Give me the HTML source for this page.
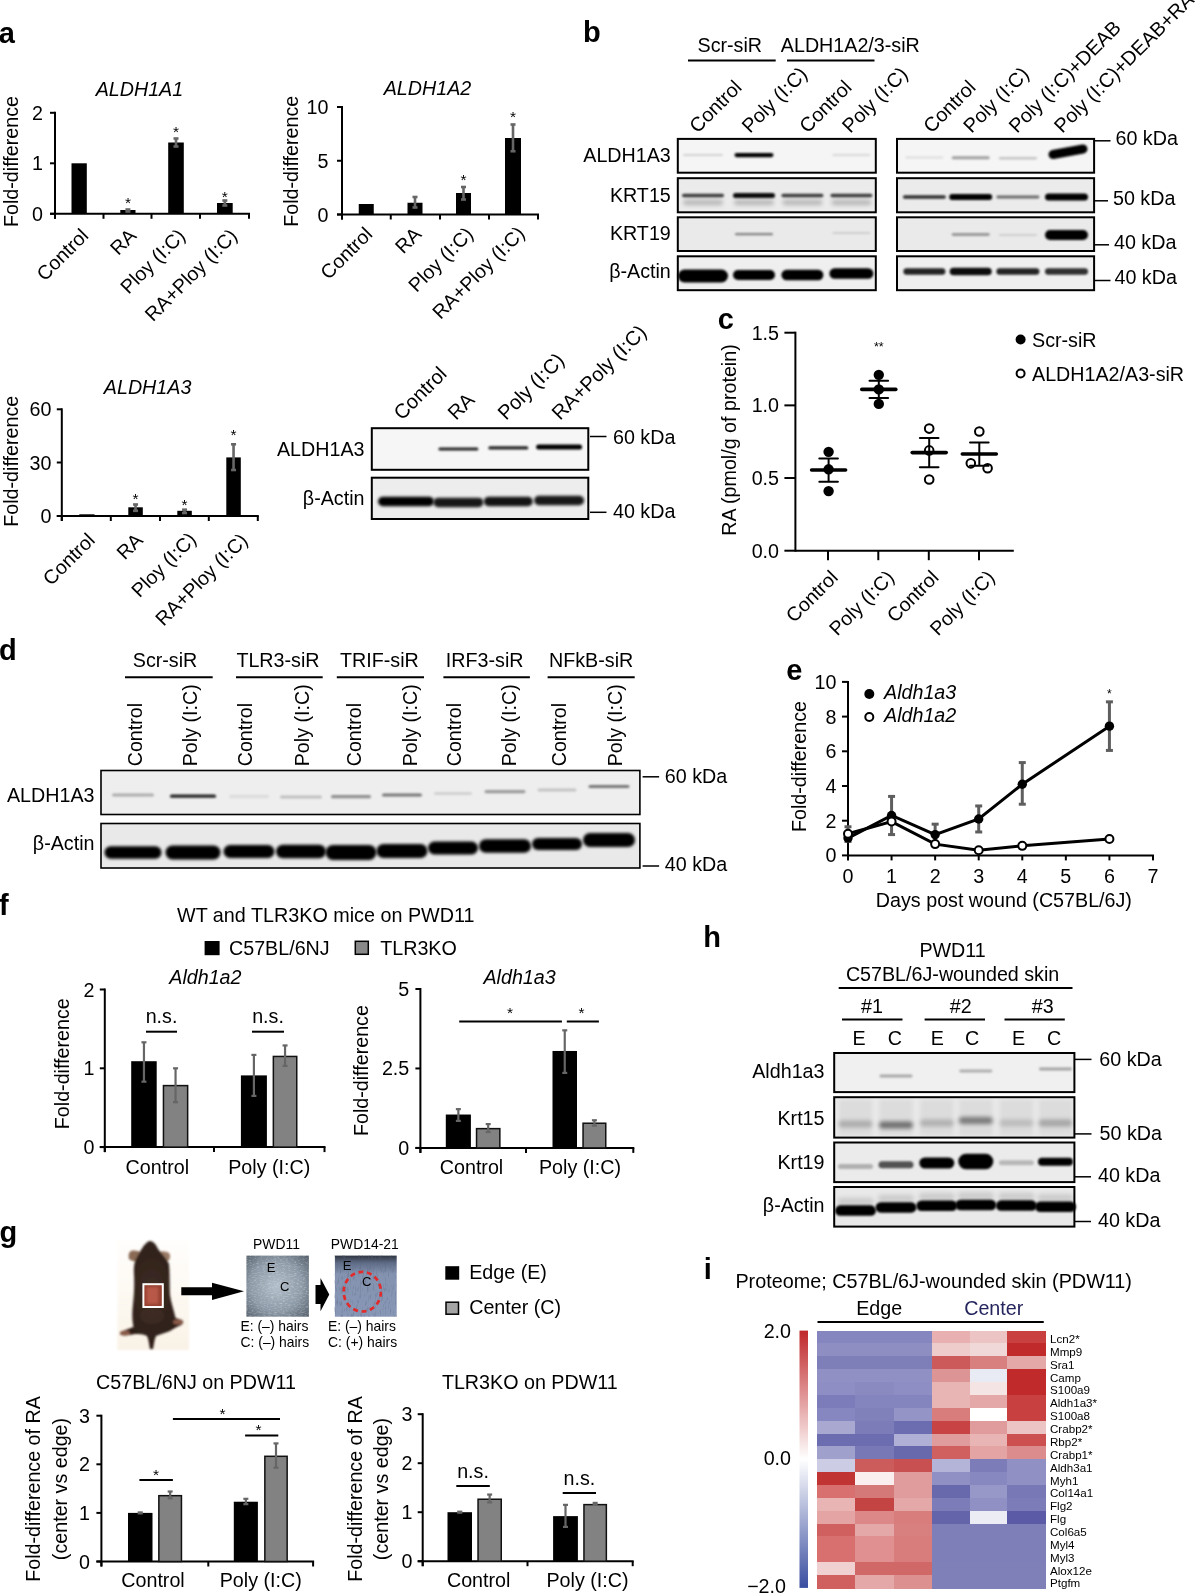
<!DOCTYPE html><html><head><meta charset="utf-8"><title>Figure</title><style>html,body{margin:0;padding:0;background:#fff;width:1200px;height:1593px;overflow:hidden}svg{display:block;will-change:transform}text{font-family:"Liberation Sans",sans-serif}</style></head><body><svg width="1200" height="1593" viewBox="0 0 1200 1593" font-family="'Liberation Sans', sans-serif"><defs><filter id="b8" x="-30%" y="-150%" width="160%" height="400%"><feGaussianBlur stdDeviation="0.8"/></filter><filter id="b9" x="-30%" y="-150%" width="160%" height="400%"><feGaussianBlur stdDeviation="0.9"/></filter><filter id="b10" x="-30%" y="-150%" width="160%" height="400%"><feGaussianBlur stdDeviation="1.0"/></filter><filter id="b12" x="-30%" y="-150%" width="160%" height="400%"><feGaussianBlur stdDeviation="1.2"/></filter><filter id="b13" x="-30%" y="-150%" width="160%" height="400%"><feGaussianBlur stdDeviation="1.3"/></filter><filter id="b15" x="-30%" y="-150%" width="160%" height="400%"><feGaussianBlur stdDeviation="1.5"/></filter><filter id="b16" x="-30%" y="-150%" width="160%" height="400%"><feGaussianBlur stdDeviation="1.6"/></filter><filter id="b18" x="-30%" y="-150%" width="160%" height="400%"><feGaussianBlur stdDeviation="1.8"/></filter><filter id="b20" x="-30%" y="-150%" width="160%" height="400%"><feGaussianBlur stdDeviation="2.0"/></filter></defs><text x="-1.20" y="42.50" font-size="29" font-weight="bold">a</text>
<text x="583.00" y="42.30" font-size="29" font-weight="bold">b</text>
<text x="717.80" y="329.30" font-size="29" font-weight="bold">c</text>
<text x="-1.00" y="660.30" font-size="29" font-weight="bold">d</text>
<text x="786.30" y="679.70" font-size="29" font-weight="bold">e</text>
<text x="-1.00" y="914.80" font-size="29" font-weight="bold">f</text>
<text x="-0.50" y="1242.00" font-size="29" font-weight="bold">g</text>
<text x="703.20" y="946.70" font-size="29" font-weight="bold">h</text>
<text x="703.70" y="1278.70" font-size="29" font-weight="bold">i</text>
<line x1="55.00" y1="111.80" x2="55.00" y2="218.80" stroke="#000" stroke-width="2"/>
<line x1="50.00" y1="112.80" x2="55.00" y2="112.80" stroke="#000" stroke-width="2"/>
<line x1="50.00" y1="163.30" x2="55.00" y2="163.30" stroke="#000" stroke-width="2"/>
<line x1="50.00" y1="213.80" x2="55.00" y2="213.80" stroke="#000" stroke-width="2"/>
<line x1="50.00" y1="213.80" x2="250.00" y2="213.80" stroke="#000" stroke-width="2"/>
<line x1="55.00" y1="213.80" x2="55.00" y2="218.80" stroke="#000" stroke-width="2"/>
<line x1="103.50" y1="213.80" x2="103.50" y2="218.80" stroke="#000" stroke-width="2"/>
<line x1="151.50" y1="213.80" x2="151.50" y2="218.80" stroke="#000" stroke-width="2"/>
<line x1="200.00" y1="213.80" x2="200.00" y2="218.80" stroke="#000" stroke-width="2"/>
<line x1="249.00" y1="213.80" x2="249.00" y2="218.80" stroke="#000" stroke-width="2"/>
<text x="43.00" y="119.80" font-size="19.7" text-anchor="end">2</text>
<text x="43.00" y="170.30" font-size="19.7" text-anchor="end">1</text>
<text x="43.00" y="220.80" font-size="19.7" text-anchor="end">0</text>
<rect x="71.50" y="163.30" width="15.30" height="50.50" fill="#000"/>
<rect x="120.30" y="210.00" width="15.20" height="3.80" fill="#000"/>
<line x1="127.90" y1="209.50" x2="127.90" y2="211.50" stroke="#666" stroke-width="2.6"/>
<line x1="125.40" y1="209.50" x2="130.40" y2="209.50" stroke="#666" stroke-width="2.6"/>
<line x1="125.40" y1="211.50" x2="130.40" y2="211.50" stroke="#666" stroke-width="2.6"/>
<text x="127.90" y="208.30" font-size="15.5" text-anchor="middle">*</text>
<rect x="168.20" y="142.50" width="15.60" height="71.30" fill="#000"/>
<line x1="176.00" y1="138.50" x2="176.00" y2="146.50" stroke="#666" stroke-width="2.6"/>
<line x1="173.50" y1="138.50" x2="178.50" y2="138.50" stroke="#666" stroke-width="2.6"/>
<line x1="173.50" y1="146.50" x2="178.50" y2="146.50" stroke="#666" stroke-width="2.6"/>
<text x="176.00" y="137.30" font-size="15.5" text-anchor="middle">*</text>
<rect x="217.00" y="203.00" width="15.70" height="10.80" fill="#000"/>
<line x1="224.85" y1="200.50" x2="224.85" y2="205.50" stroke="#666" stroke-width="2.6"/>
<line x1="222.35" y1="200.50" x2="227.35" y2="200.50" stroke="#666" stroke-width="2.6"/>
<line x1="222.35" y1="205.50" x2="227.35" y2="205.50" stroke="#666" stroke-width="2.6"/>
<text x="224.85" y="201.60" font-size="15.5" text-anchor="middle">*</text>
<text x="139.40" y="96.30" font-size="19.7" text-anchor="middle" font-style="italic">ALDH1A1</text>
<text transform="translate(17.50,161.50) rotate(-90)" font-size="19.7" text-anchor="middle">Fold-difference</text>
<text transform="translate(89.60,237.00) rotate(-45)" font-size="19.7" text-anchor="end">Control</text>
<text transform="translate(137.50,237.00) rotate(-45)" font-size="19.7" text-anchor="end">RA</text>
<text transform="translate(186.50,237.00) rotate(-45)" font-size="19.7" text-anchor="end">Ploy (I:C)</text>
<text transform="translate(238.50,237.00) rotate(-45)" font-size="19.7" text-anchor="end">RA+Ploy (I:C)</text>
<line x1="342.00" y1="106.00" x2="342.00" y2="219.50" stroke="#000" stroke-width="2"/>
<line x1="337.00" y1="107.00" x2="342.00" y2="107.00" stroke="#000" stroke-width="2"/>
<line x1="337.00" y1="160.75" x2="342.00" y2="160.75" stroke="#000" stroke-width="2"/>
<line x1="337.00" y1="214.50" x2="342.00" y2="214.50" stroke="#000" stroke-width="2"/>
<line x1="337.00" y1="214.50" x2="539.00" y2="214.50" stroke="#000" stroke-width="2"/>
<line x1="342.00" y1="214.50" x2="342.00" y2="219.50" stroke="#000" stroke-width="2"/>
<line x1="390.75" y1="214.50" x2="390.75" y2="219.50" stroke="#000" stroke-width="2"/>
<line x1="440.00" y1="214.50" x2="440.00" y2="219.50" stroke="#000" stroke-width="2"/>
<line x1="489.00" y1="214.50" x2="489.00" y2="219.50" stroke="#000" stroke-width="2"/>
<line x1="538.00" y1="214.50" x2="538.00" y2="219.50" stroke="#000" stroke-width="2"/>
<text x="328.50" y="114.00" font-size="19.7" text-anchor="end">10</text>
<text x="328.50" y="167.75" font-size="19.7" text-anchor="end">5</text>
<text x="328.50" y="221.50" font-size="19.7" text-anchor="end">0</text>
<rect x="358.75" y="204.00" width="15.00" height="10.50" fill="#000"/>
<rect x="407.50" y="202.75" width="15.00" height="11.75" fill="#000"/>
<line x1="415.00" y1="197.00" x2="415.00" y2="207.50" stroke="#666" stroke-width="2.6"/>
<line x1="412.50" y1="197.00" x2="417.50" y2="197.00" stroke="#666" stroke-width="2.6"/>
<line x1="412.50" y1="207.50" x2="417.50" y2="207.50" stroke="#666" stroke-width="2.6"/>
<rect x="456.00" y="193.00" width="15.00" height="21.50" fill="#000"/>
<line x1="463.50" y1="187.00" x2="463.50" y2="199.50" stroke="#666" stroke-width="2.6"/>
<line x1="461.00" y1="187.00" x2="466.00" y2="187.00" stroke="#666" stroke-width="2.6"/>
<line x1="461.00" y1="199.50" x2="466.00" y2="199.50" stroke="#666" stroke-width="2.6"/>
<text x="463.50" y="185.30" font-size="15.5" text-anchor="middle">*</text>
<rect x="505.00" y="138.00" width="16.00" height="76.50" fill="#000"/>
<line x1="513.00" y1="124.50" x2="513.00" y2="151.25" stroke="#666" stroke-width="2.6"/>
<line x1="510.50" y1="124.50" x2="515.50" y2="124.50" stroke="#666" stroke-width="2.6"/>
<line x1="510.50" y1="151.25" x2="515.50" y2="151.25" stroke="#666" stroke-width="2.6"/>
<text x="513.00" y="121.60" font-size="15.5" text-anchor="middle">*</text>
<text x="427.50" y="95.00" font-size="19.7" text-anchor="middle" font-style="italic">ALDH1A2</text>
<text transform="translate(298.00,161.25) rotate(-90)" font-size="19.7" text-anchor="middle">Fold-difference</text>
<text transform="translate(373.50,235.50) rotate(-45)" font-size="19.7" text-anchor="end">Control</text>
<text transform="translate(422.50,235.50) rotate(-45)" font-size="19.7" text-anchor="end">RA</text>
<text transform="translate(474.50,235.30) rotate(-45)" font-size="19.7" text-anchor="end">Ploy (I:C)</text>
<text transform="translate(526.00,234.70) rotate(-45)" font-size="19.7" text-anchor="end">RA+Ploy (I:C)</text>
<line x1="61.80" y1="408.30" x2="61.80" y2="521.00" stroke="#000" stroke-width="2"/>
<line x1="56.80" y1="409.30" x2="61.80" y2="409.30" stroke="#000" stroke-width="2"/>
<line x1="56.80" y1="462.50" x2="61.80" y2="462.50" stroke="#000" stroke-width="2"/>
<line x1="56.80" y1="516.00" x2="61.80" y2="516.00" stroke="#000" stroke-width="2"/>
<line x1="56.80" y1="516.00" x2="258.80" y2="516.00" stroke="#000" stroke-width="2"/>
<line x1="61.80" y1="516.00" x2="61.80" y2="521.00" stroke="#000" stroke-width="2"/>
<line x1="110.80" y1="516.00" x2="110.80" y2="521.00" stroke="#000" stroke-width="2"/>
<line x1="160.00" y1="516.00" x2="160.00" y2="521.00" stroke="#000" stroke-width="2"/>
<line x1="208.80" y1="516.00" x2="208.80" y2="521.00" stroke="#000" stroke-width="2"/>
<line x1="257.80" y1="516.00" x2="257.80" y2="521.00" stroke="#000" stroke-width="2"/>
<text x="51.50" y="416.30" font-size="19.7" text-anchor="end">60</text>
<text x="51.50" y="469.50" font-size="19.7" text-anchor="end">30</text>
<text x="51.50" y="523.00" font-size="19.7" text-anchor="end">0</text>
<rect x="79.30" y="514.30" width="15.20" height="1.70" fill="#000"/>
<rect x="128.30" y="507.30" width="14.50" height="8.70" fill="#000"/>
<line x1="135.55" y1="504.50" x2="135.55" y2="510.80" stroke="#666" stroke-width="2.6"/>
<line x1="133.05" y1="504.50" x2="138.05" y2="504.50" stroke="#666" stroke-width="2.6"/>
<line x1="133.05" y1="510.80" x2="138.05" y2="510.80" stroke="#666" stroke-width="2.6"/>
<text x="135.55" y="503.50" font-size="15.5" text-anchor="middle">*</text>
<rect x="177.30" y="510.80" width="14.50" height="5.20" fill="#000"/>
<line x1="184.55" y1="509.70" x2="184.55" y2="513.00" stroke="#666" stroke-width="2.6"/>
<line x1="182.05" y1="509.70" x2="187.05" y2="509.70" stroke="#666" stroke-width="2.6"/>
<line x1="182.05" y1="513.00" x2="187.05" y2="513.00" stroke="#666" stroke-width="2.6"/>
<text x="184.55" y="510.00" font-size="15.5" text-anchor="middle">*</text>
<rect x="226.30" y="457.40" width="14.50" height="58.60" fill="#000"/>
<line x1="233.55" y1="444.30" x2="233.55" y2="470.00" stroke="#666" stroke-width="2.6"/>
<line x1="231.05" y1="444.30" x2="236.05" y2="444.30" stroke="#666" stroke-width="2.6"/>
<line x1="231.05" y1="470.00" x2="236.05" y2="470.00" stroke="#666" stroke-width="2.6"/>
<text x="233.55" y="439.80" font-size="15.5" text-anchor="middle">*</text>
<text x="147.60" y="394.00" font-size="19.7" text-anchor="middle" font-style="italic">ALDH1A3</text>
<text transform="translate(17.50,461.25) rotate(-90)" font-size="19.7" text-anchor="middle">Fold-difference</text>
<text transform="translate(96.00,541.50) rotate(-45)" font-size="19.7" text-anchor="end">Control</text>
<text transform="translate(144.00,541.50) rotate(-45)" font-size="19.7" text-anchor="end">RA</text>
<text transform="translate(197.50,540.50) rotate(-45)" font-size="19.7" text-anchor="end">Ploy (I:C)</text>
<text transform="translate(249.00,541.50) rotate(-45)" font-size="19.7" text-anchor="end">RA+Ploy (I:C)</text>
<rect x="371.80" y="428.20" width="216.50" height="41.60" fill="#f6f6f6"/>
<rect x="371.80" y="477.70" width="216.50" height="41.30" fill="#ededed"/>
<rect x="438.40" y="447.40" width="40.00" height="3.00" rx="1.50" fill="#000" fill-opacity="0.85" filter="url(#b9)"/>
<rect x="488.30" y="446.30" width="40.00" height="3.20" rx="1.60" fill="#000" fill-opacity="0.85" filter="url(#b9)"/>
<rect x="536.10" y="444.40" width="46.00" height="5.00" rx="2.50" fill="#000" fill-opacity="1.0" filter="url(#b9)"/>
<rect x="378.00" y="496.75" width="56.00" height="9.50" rx="4.75" fill="#000" fill-opacity="1.0" filter="url(#b18)"/>
<rect x="433.40" y="497.65" width="50.00" height="9.50" rx="4.75" fill="#000" fill-opacity="0.9" filter="url(#b18)"/>
<rect x="483.80" y="496.75" width="49.00" height="9.50" rx="4.75" fill="#000" fill-opacity="0.92" filter="url(#b18)"/>
<rect x="534.10" y="495.75" width="50.00" height="9.50" rx="4.75" fill="#000" fill-opacity="0.9" filter="url(#b18)"/>
<rect x="371.80" y="428.20" width="216.50" height="41.60" fill="none" stroke="#000" stroke-width="2"/>
<rect x="371.80" y="477.70" width="216.50" height="41.30" fill="none" stroke="#000" stroke-width="2"/>
<text x="364.50" y="456.00" font-size="19.7" text-anchor="end">ALDH1A3</text>
<text x="364.50" y="505.00" font-size="19.7" text-anchor="end">β-Actin</text>
<line x1="590.00" y1="436.50" x2="606.50" y2="436.50" stroke="#000" stroke-width="1.5"/>
<text x="613.00" y="443.50" font-size="19.7">60 kDa</text>
<line x1="590.00" y1="512.30" x2="606.50" y2="512.30" stroke="#000" stroke-width="1.5"/>
<text x="613.00" y="518.10" font-size="19.7">40 kDa</text>
<text transform="translate(402.00,421.10) rotate(-45)" font-size="20.2">Control</text>
<text transform="translate(456.00,421.10) rotate(-45)" font-size="20.2">RA</text>
<text transform="translate(506.00,421.10) rotate(-45)" font-size="20.2">Poly (I:C)</text>
<text transform="translate(560.00,421.10) rotate(-45)" font-size="20.2">RA+Poly (I:C)</text>
<rect x="677.80" y="138.90" width="198.00" height="33.80" fill="#f5f5f5"/>
<rect x="897.00" y="138.90" width="197.10" height="33.80" fill="#f5f5f5"/>
<rect x="677.80" y="178.20" width="198.00" height="34.10" fill="#ebebeb"/>
<rect x="897.00" y="178.20" width="197.10" height="34.10" fill="#ebebeb"/>
<rect x="677.80" y="217.30" width="198.00" height="33.70" fill="#eaeaea"/>
<rect x="897.00" y="217.30" width="197.10" height="33.70" fill="#eaeaea"/>
<rect x="677.80" y="256.30" width="198.00" height="33.90" fill="#efefef"/>
<rect x="897.00" y="256.30" width="197.10" height="33.90" fill="#efefef"/>
<rect x="683.00" y="154.00" width="40.00" height="2.00" rx="1.00" fill="#000" fill-opacity="0.15" filter="url(#b10)"/>
<rect x="734.50" y="153.00" width="39.00" height="4.20" rx="2.10" fill="#000" fill-opacity="1.0" filter="url(#b8)"/>
<rect x="832.40" y="154.00" width="38.00" height="2.00" rx="1.00" fill="#000" fill-opacity="0.12" filter="url(#b10)"/>
<rect x="905.40" y="156.50" width="38.00" height="2.00" rx="1.00" fill="#000" fill-opacity="0.1" filter="url(#b10)"/>
<rect x="951.70" y="156.30" width="38.00" height="3.00" rx="1.50" fill="#000" fill-opacity="0.35" filter="url(#b10)"/>
<rect x="998.90" y="157.05" width="38.00" height="2.50" rx="1.25" fill="#000" fill-opacity="0.2" filter="url(#b10)"/>
<line x1="1053" y1="154.5" x2="1083" y2="149" stroke="#000" stroke-width="9" stroke-linecap="round" filter="url(#b8)"/>
<rect x="682.00" y="193.75" width="42.00" height="3.50" rx="1.75" fill="#000" fill-opacity="0.75" filter="url(#b10)"/>
<rect x="683.00" y="199.75" width="40.00" height="5.50" rx="2.75" fill="#000" fill-opacity="0.22" filter="url(#b20)"/>
<rect x="733.00" y="193.00" width="42.00" height="5.00" rx="2.50" fill="#000" fill-opacity="0.95" filter="url(#b10)"/>
<rect x="734.00" y="199.75" width="40.00" height="5.50" rx="2.75" fill="#000" fill-opacity="0.22" filter="url(#b20)"/>
<rect x="781.40" y="193.75" width="42.00" height="3.50" rx="1.75" fill="#000" fill-opacity="0.75" filter="url(#b10)"/>
<rect x="782.40" y="199.75" width="40.00" height="5.50" rx="2.75" fill="#000" fill-opacity="0.22" filter="url(#b20)"/>
<rect x="830.40" y="193.75" width="42.00" height="3.50" rx="1.75" fill="#000" fill-opacity="0.75" filter="url(#b10)"/>
<rect x="831.40" y="199.75" width="40.00" height="5.50" rx="2.75" fill="#000" fill-opacity="0.22" filter="url(#b20)"/>
<rect x="902.90" y="195.25" width="43.00" height="3.50" rx="1.75" fill="#000" fill-opacity="0.8" filter="url(#b10)"/>
<rect x="949.20" y="194.00" width="43.00" height="6.00" rx="3.00" fill="#000" fill-opacity="1.0" filter="url(#b10)"/>
<rect x="996.40" y="195.60" width="43.00" height="2.80" rx="1.40" fill="#000" fill-opacity="0.55" filter="url(#b10)"/>
<rect x="1045.00" y="193.50" width="43.00" height="7.00" rx="3.50" fill="#000" fill-opacity="1.0" filter="url(#b10)"/>
<rect x="735.00" y="233.10" width="38.00" height="2.20" rx="1.10" fill="#000" fill-opacity="0.45" filter="url(#b8)"/>
<rect x="832.40" y="232.00" width="38.00" height="2.00" rx="1.00" fill="#000" fill-opacity="0.12" filter="url(#b10)"/>
<rect x="951.70" y="233.10" width="38.00" height="2.80" rx="1.40" fill="#000" fill-opacity="0.35" filter="url(#b10)"/>
<rect x="998.90" y="234.00" width="38.00" height="2.00" rx="1.00" fill="#000" fill-opacity="0.12" filter="url(#b10)"/>
<rect x="1045.00" y="230.00" width="43.00" height="10.00" rx="5.00" fill="#000" fill-opacity="1.0" filter="url(#b10)"/>
<rect x="678.00" y="269.50" width="50.00" height="13.00" rx="6.50" fill="#000" fill-opacity="1.0" filter="url(#b13)"/>
<rect x="733.00" y="270.00" width="42.00" height="10.00" rx="5.00" fill="#000" fill-opacity="1.0" filter="url(#b13)"/>
<rect x="781.40" y="269.75" width="42.00" height="10.50" rx="5.25" fill="#000" fill-opacity="1.0" filter="url(#b13)"/>
<rect x="829.40" y="268.25" width="44.00" height="10.50" rx="5.25" fill="#000" fill-opacity="1.0" filter="url(#b13)"/>
<rect x="903.40" y="268.25" width="42.00" height="6.50" rx="3.25" fill="#000" fill-opacity="0.85" filter="url(#b12)"/>
<rect x="949.70" y="267.75" width="42.00" height="7.50" rx="3.75" fill="#000" fill-opacity="0.95" filter="url(#b12)"/>
<rect x="996.40" y="268.25" width="43.00" height="6.50" rx="3.25" fill="#000" fill-opacity="0.85" filter="url(#b12)"/>
<rect x="1045.00" y="268.25" width="43.00" height="6.50" rx="3.25" fill="#000" fill-opacity="0.8" filter="url(#b12)"/>
<rect x="677.80" y="138.90" width="198.00" height="33.80" fill="none" stroke="#000" stroke-width="2"/>
<rect x="897.00" y="138.90" width="197.10" height="33.80" fill="none" stroke="#000" stroke-width="2"/>
<rect x="677.80" y="178.20" width="198.00" height="34.10" fill="none" stroke="#000" stroke-width="2"/>
<rect x="897.00" y="178.20" width="197.10" height="34.10" fill="none" stroke="#000" stroke-width="2"/>
<rect x="677.80" y="217.30" width="198.00" height="33.70" fill="none" stroke="#000" stroke-width="2"/>
<rect x="897.00" y="217.30" width="197.10" height="33.70" fill="none" stroke="#000" stroke-width="2"/>
<rect x="677.80" y="256.30" width="198.00" height="33.90" fill="none" stroke="#000" stroke-width="2"/>
<rect x="897.00" y="256.30" width="197.10" height="33.90" fill="none" stroke="#000" stroke-width="2"/>
<text x="670.80" y="161.90" font-size="19.7" text-anchor="end">ALDH1A3</text>
<text x="670.80" y="201.55" font-size="19.7" text-anchor="end">KRT15</text>
<text x="670.80" y="239.95" font-size="19.7" text-anchor="end">KRT19</text>
<text x="670.80" y="277.95" font-size="19.7" text-anchor="end">β-Actin</text>
<text x="729.80" y="52.00" font-size="19.7" text-anchor="middle">Scr-siR</text>
<line x1="688.00" y1="60.50" x2="775.70" y2="60.50" stroke="#000" stroke-width="2"/>
<text x="850.30" y="52.00" font-size="19.7" text-anchor="middle">ALDH1A2/3-siR</text>
<line x1="787.00" y1="60.50" x2="874.50" y2="60.50" stroke="#000" stroke-width="2"/>
<text transform="translate(697.60,134.00) rotate(-45)" font-size="19.9">Control</text>
<text transform="translate(749.90,134.00) rotate(-45)" font-size="19.9">Poly (I:C)</text>
<text transform="translate(807.60,134.00) rotate(-45)" font-size="19.9">Control</text>
<text transform="translate(850.30,134.00) rotate(-45)" font-size="19.9">Poly (I:C)</text>
<text transform="translate(931.60,134.00) rotate(-45)" font-size="19.9">Control</text>
<text transform="translate(971.50,134.00) rotate(-45)" font-size="19.9">Poly (I:C)</text>
<text transform="translate(1016.90,134.00) rotate(-45)" font-size="19.9">Poly (I:C)+DEAB</text>
<text transform="translate(1062.30,134.00) rotate(-45)" font-size="19.9">Poly (I:C)+DEAB+RA</text>
<line x1="1094.00" y1="140.80" x2="1110.50" y2="140.80" stroke="#000" stroke-width="1.5"/>
<text x="1115.50" y="145.40" font-size="19.7">60 kDa</text>
<line x1="1094.00" y1="200.80" x2="1108.00" y2="200.80" stroke="#000" stroke-width="1.5"/>
<text x="1113.00" y="204.70" font-size="19.7">50 kDa</text>
<line x1="1094.00" y1="244.80" x2="1109.00" y2="244.80" stroke="#000" stroke-width="1.5"/>
<text x="1114.00" y="248.70" font-size="19.7">40 kDa</text>
<line x1="1094.00" y1="280.50" x2="1110.50" y2="280.50" stroke="#000" stroke-width="1.5"/>
<text x="1114.50" y="284.40" font-size="19.7">40 kDa</text>
<line x1="795.40" y1="331.70" x2="795.40" y2="551.70" stroke="#000" stroke-width="2"/>
<line x1="784.40" y1="332.70" x2="795.40" y2="332.70" stroke="#000" stroke-width="2"/>
<text x="779.00" y="339.70" font-size="19.7" text-anchor="end">1.5</text>
<line x1="784.40" y1="405.37" x2="795.40" y2="405.37" stroke="#000" stroke-width="2"/>
<text x="779.00" y="412.37" font-size="19.7" text-anchor="end">1.0</text>
<line x1="784.40" y1="478.03" x2="795.40" y2="478.03" stroke="#000" stroke-width="2"/>
<text x="779.00" y="485.03" font-size="19.7" text-anchor="end">0.5</text>
<line x1="784.40" y1="550.70" x2="795.40" y2="550.70" stroke="#000" stroke-width="2"/>
<text x="779.00" y="557.70" font-size="19.7" text-anchor="end">0.0</text>
<line x1="795.40" y1="550.70" x2="1013.80" y2="550.70" stroke="#000" stroke-width="2"/>
<line x1="828.00" y1="550.70" x2="828.00" y2="560.20" stroke="#000" stroke-width="2"/>
<line x1="878.30" y1="550.70" x2="878.30" y2="560.20" stroke="#000" stroke-width="2"/>
<line x1="928.80" y1="550.70" x2="928.80" y2="560.20" stroke="#000" stroke-width="2"/>
<line x1="979.00" y1="550.70" x2="979.00" y2="560.20" stroke="#000" stroke-width="2"/>
<circle cx="828.60" cy="451.87" r="5.2" fill="#000"/>
<circle cx="828.60" cy="469.31" r="5.2" fill="#000"/>
<circle cx="828.60" cy="491.11" r="5.2" fill="#000"/>
<line x1="811.60" y1="470.04" x2="845.60" y2="470.04" stroke="#000" stroke-width="3.6" stroke-linecap="round"/>
<line x1="828.60" y1="458.41" x2="828.60" y2="481.67" stroke="#000" stroke-width="2"/>
<line x1="819.30" y1="458.41" x2="837.90" y2="458.41" stroke="#000" stroke-width="2" stroke-linecap="round"/>
<line x1="819.30" y1="481.67" x2="837.90" y2="481.67" stroke="#000" stroke-width="2" stroke-linecap="round"/>
<circle cx="878.80" cy="374.85" r="5.2" fill="#000"/>
<circle cx="878.80" cy="389.38" r="5.2" fill="#000"/>
<circle cx="878.80" cy="403.91" r="5.2" fill="#000"/>
<line x1="861.80" y1="389.38" x2="895.80" y2="389.38" stroke="#000" stroke-width="3.6" stroke-linecap="round"/>
<line x1="878.80" y1="380.66" x2="878.80" y2="398.10" stroke="#000" stroke-width="2"/>
<line x1="869.50" y1="380.66" x2="888.10" y2="380.66" stroke="#000" stroke-width="2" stroke-linecap="round"/>
<line x1="869.50" y1="398.10" x2="888.10" y2="398.10" stroke="#000" stroke-width="2" stroke-linecap="round"/>
<circle cx="929.20" cy="428.62" r="4.3" fill="#fff" stroke="#000" stroke-width="2"/>
<circle cx="929.20" cy="450.42" r="4.3" fill="#fff" stroke="#000" stroke-width="2"/>
<circle cx="929.20" cy="479.49" r="4.3" fill="#fff" stroke="#000" stroke-width="2"/>
<line x1="912.20" y1="452.60" x2="946.20" y2="452.60" stroke="#000" stroke-width="3.6" stroke-linecap="round"/>
<line x1="929.20" y1="438.07" x2="929.20" y2="467.13" stroke="#000" stroke-width="2"/>
<line x1="919.90" y1="438.07" x2="938.50" y2="438.07" stroke="#000" stroke-width="2" stroke-linecap="round"/>
<line x1="919.90" y1="467.13" x2="938.50" y2="467.13" stroke="#000" stroke-width="2" stroke-linecap="round"/>
<circle cx="979.30" cy="431.53" r="4.3" fill="#fff" stroke="#000" stroke-width="2"/>
<circle cx="970.80" cy="463.35" r="4.3" fill="#fff" stroke="#000" stroke-width="2"/>
<circle cx="987.60" cy="468.30" r="4.3" fill="#fff" stroke="#000" stroke-width="2"/>
<line x1="962.30" y1="454.05" x2="996.30" y2="454.05" stroke="#000" stroke-width="3.6" stroke-linecap="round"/>
<line x1="979.30" y1="442.43" x2="979.30" y2="465.68" stroke="#000" stroke-width="2"/>
<line x1="970.00" y1="442.43" x2="988.60" y2="442.43" stroke="#000" stroke-width="2" stroke-linecap="round"/>
<line x1="970.00" y1="465.68" x2="988.60" y2="465.68" stroke="#000" stroke-width="2" stroke-linecap="round"/>
<text x="878.80" y="350.50" font-size="12.5" text-anchor="middle">**</text>
<text transform="translate(736.00,440.00) rotate(-90)" font-size="19.7" text-anchor="middle">RA (pmol/g of protein)</text>
<text transform="translate(839.00,578.70) rotate(-45)" font-size="19.7" text-anchor="end">Control</text>
<text transform="translate(895.30,578.70) rotate(-45)" font-size="19.7" text-anchor="end">Poly (I:C)</text>
<text transform="translate(939.80,578.70) rotate(-45)" font-size="19.7" text-anchor="end">Control</text>
<text transform="translate(996.00,578.70) rotate(-45)" font-size="19.7" text-anchor="end">Poly (I:C)</text>
<circle cx="1020.6" cy="339.5" r="5" fill="#000"/>
<text x="1032.00" y="346.50" font-size="19.7">Scr-siR</text>
<circle cx="1020.6" cy="373.5" r="4" fill="#fff" stroke="#000" stroke-width="2"/>
<text x="1032.00" y="380.50" font-size="19.7">ALDH1A2/A3-siR</text>
<rect x="101.00" y="770.50" width="538.90" height="44.00" fill="#eeeeee"/>
<rect x="101.00" y="823.50" width="538.90" height="44.50" fill="#e9e9e9"/>
<rect x="112.00" y="793.40" width="42.00" height="3.20" rx="1.60" fill="#000" fill-opacity="0.28" filter="url(#b10)"/>
<rect x="170.00" y="794.60" width="46.00" height="3.20" rx="1.60" fill="#000" fill-opacity="0.85" filter="url(#b10)"/>
<rect x="229.00" y="794.90" width="40.00" height="3.20" rx="1.60" fill="#000" fill-opacity="0.08" filter="url(#b10)"/>
<rect x="280.00" y="795.40" width="42.00" height="3.20" rx="1.60" fill="#000" fill-opacity="0.2" filter="url(#b10)"/>
<rect x="331.00" y="795.10" width="40.00" height="3.20" rx="1.60" fill="#000" fill-opacity="0.4" filter="url(#b10)"/>
<rect x="382.00" y="793.40" width="40.00" height="3.20" rx="1.60" fill="#000" fill-opacity="0.5" filter="url(#b10)"/>
<rect x="434.00" y="791.90" width="38.00" height="3.20" rx="1.60" fill="#000" fill-opacity="0.12" filter="url(#b10)"/>
<rect x="484.50" y="790.00" width="41.00" height="3.20" rx="1.60" fill="#000" fill-opacity="0.35" filter="url(#b10)"/>
<rect x="537.50" y="788.40" width="39.00" height="3.20" rx="1.60" fill="#000" fill-opacity="0.18" filter="url(#b10)"/>
<rect x="588.50" y="784.90" width="41.00" height="3.20" rx="1.60" fill="#000" fill-opacity="0.5" filter="url(#b10)"/>
<rect x="104.50" y="846.25" width="57.00" height="12.50" rx="6.25" fill="#000" fill-opacity="1.0" filter="url(#b16)"/>
<rect x="165.50" y="845.50" width="55.00" height="14.00" rx="7.00" fill="#000" fill-opacity="1.0" filter="url(#b16)"/>
<rect x="223.50" y="845.00" width="51.00" height="13.00" rx="6.50" fill="#000" fill-opacity="1.0" filter="url(#b16)"/>
<rect x="276.00" y="844.75" width="50.00" height="13.50" rx="6.75" fill="#000" fill-opacity="1.0" filter="url(#b16)"/>
<rect x="325.50" y="845.00" width="51.00" height="15.00" rx="7.50" fill="#000" fill-opacity="1.0" filter="url(#b16)"/>
<rect x="376.50" y="844.00" width="51.00" height="14.00" rx="7.00" fill="#000" fill-opacity="1.0" filter="url(#b16)"/>
<rect x="428.00" y="841.50" width="50.00" height="13.00" rx="6.50" fill="#000" fill-opacity="1.0" filter="url(#b16)"/>
<rect x="479.00" y="839.25" width="52.00" height="13.50" rx="6.75" fill="#000" fill-opacity="1.0" filter="url(#b16)"/>
<rect x="532.00" y="838.00" width="50.00" height="12.00" rx="6.00" fill="#000" fill-opacity="1.0" filter="url(#b16)"/>
<rect x="583.00" y="833.00" width="52.00" height="14.00" rx="7.00" fill="#000" fill-opacity="1.0" filter="url(#b16)"/>
<rect x="101.00" y="770.50" width="538.90" height="44.00" fill="none" stroke="#000" stroke-width="1.6"/>
<rect x="101.00" y="823.50" width="538.90" height="44.50" fill="none" stroke="#000" stroke-width="1.6"/>
<text x="94.50" y="802.40" font-size="19.7" text-anchor="end">ALDH1A3</text>
<text x="94.50" y="850.20" font-size="19.7" text-anchor="end">β-Actin</text>
<line x1="642.60" y1="776.80" x2="659.10" y2="776.80" stroke="#000" stroke-width="1.5"/>
<text x="664.80" y="782.90" font-size="19.7">60 kDa</text>
<line x1="642.60" y1="866.00" x2="659.10" y2="866.00" stroke="#000" stroke-width="1.5"/>
<text x="664.80" y="870.60" font-size="19.7">40 kDa</text>
<text x="165.05" y="667.30" font-size="19.7" text-anchor="middle">Scr-siR</text>
<line x1="125.00" y1="677.20" x2="212.70" y2="677.20" stroke="#000" stroke-width="2"/>
<text x="277.95" y="667.30" font-size="19.7" text-anchor="middle">TLR3-siR</text>
<line x1="236.00" y1="677.20" x2="322.70" y2="677.20" stroke="#000" stroke-width="2"/>
<text x="379.40" y="667.30" font-size="19.7" text-anchor="middle">TRIF-siR</text>
<line x1="336.80" y1="677.20" x2="424.00" y2="677.20" stroke="#000" stroke-width="2"/>
<text x="484.65" y="667.30" font-size="19.7" text-anchor="middle">IRF3-siR</text>
<line x1="443.40" y1="677.20" x2="529.90" y2="677.20" stroke="#000" stroke-width="2"/>
<text x="591.15" y="667.30" font-size="19.7" text-anchor="middle">NFkB-siR</text>
<line x1="547.60" y1="677.20" x2="634.70" y2="677.20" stroke="#000" stroke-width="2"/>
<text transform="translate(142.00,766.30) rotate(-90)" font-size="19.7">Control</text>
<text transform="translate(197.00,766.30) rotate(-90)" font-size="19.7">Poly (I:C)</text>
<text transform="translate(252.00,766.30) rotate(-90)" font-size="19.7">Control</text>
<text transform="translate(308.70,766.30) rotate(-90)" font-size="19.7">Poly (I:C)</text>
<text transform="translate(360.50,766.30) rotate(-90)" font-size="19.7">Control</text>
<text transform="translate(417.30,766.30) rotate(-90)" font-size="19.7">Poly (I:C)</text>
<text transform="translate(460.50,766.30) rotate(-90)" font-size="19.7">Control</text>
<text transform="translate(516.40,766.30) rotate(-90)" font-size="19.7">Poly (I:C)</text>
<text transform="translate(565.50,766.30) rotate(-90)" font-size="19.7">Control</text>
<text transform="translate(622.30,766.30) rotate(-90)" font-size="19.7">Poly (I:C)</text>
<line x1="848.00" y1="680.90" x2="848.00" y2="856.40" stroke="#000" stroke-width="2"/>
<line x1="842.00" y1="855.40" x2="848.00" y2="855.40" stroke="#000" stroke-width="2"/>
<text x="836.50" y="862.40" font-size="19.7" text-anchor="end">0</text>
<line x1="842.00" y1="820.70" x2="848.00" y2="820.70" stroke="#000" stroke-width="2"/>
<text x="836.50" y="827.70" font-size="19.7" text-anchor="end">2</text>
<line x1="842.00" y1="786.00" x2="848.00" y2="786.00" stroke="#000" stroke-width="2"/>
<text x="836.50" y="793.00" font-size="19.7" text-anchor="end">4</text>
<line x1="842.00" y1="751.30" x2="848.00" y2="751.30" stroke="#000" stroke-width="2"/>
<text x="836.50" y="758.30" font-size="19.7" text-anchor="end">6</text>
<line x1="842.00" y1="716.60" x2="848.00" y2="716.60" stroke="#000" stroke-width="2"/>
<text x="836.50" y="723.60" font-size="19.7" text-anchor="end">8</text>
<line x1="842.00" y1="681.90" x2="848.00" y2="681.90" stroke="#000" stroke-width="2"/>
<text x="836.50" y="688.90" font-size="19.7" text-anchor="end">10</text>
<line x1="848.00" y1="855.40" x2="1153.99" y2="855.40" stroke="#000" stroke-width="2"/>
<line x1="848.00" y1="855.40" x2="848.00" y2="860.40" stroke="#000" stroke-width="2"/>
<text x="848.00" y="882.80" font-size="19.7" text-anchor="middle">0</text>
<line x1="891.57" y1="855.40" x2="891.57" y2="860.40" stroke="#000" stroke-width="2"/>
<text x="891.57" y="882.80" font-size="19.7" text-anchor="middle">1</text>
<line x1="935.14" y1="855.40" x2="935.14" y2="860.40" stroke="#000" stroke-width="2"/>
<text x="935.14" y="882.80" font-size="19.7" text-anchor="middle">2</text>
<line x1="978.71" y1="855.40" x2="978.71" y2="860.40" stroke="#000" stroke-width="2"/>
<text x="978.71" y="882.80" font-size="19.7" text-anchor="middle">3</text>
<line x1="1022.28" y1="855.40" x2="1022.28" y2="860.40" stroke="#000" stroke-width="2"/>
<text x="1022.28" y="882.80" font-size="19.7" text-anchor="middle">4</text>
<line x1="1065.85" y1="855.40" x2="1065.85" y2="860.40" stroke="#000" stroke-width="2"/>
<text x="1065.85" y="882.80" font-size="19.7" text-anchor="middle">5</text>
<line x1="1109.42" y1="855.40" x2="1109.42" y2="860.40" stroke="#000" stroke-width="2"/>
<text x="1109.42" y="882.80" font-size="19.7" text-anchor="middle">6</text>
<line x1="1152.99" y1="855.40" x2="1152.99" y2="860.40" stroke="#000" stroke-width="2"/>
<text x="1152.99" y="882.80" font-size="19.7" text-anchor="middle">7</text>
<line x1="848.00" y1="841.52" x2="848.00" y2="826.77" stroke="#5e5e5e" stroke-width="3"/>
<line x1="844.50" y1="841.52" x2="851.50" y2="841.52" stroke="#5e5e5e" stroke-width="3"/>
<line x1="844.50" y1="826.77" x2="851.50" y2="826.77" stroke="#5e5e5e" stroke-width="3"/>
<line x1="891.57" y1="834.58" x2="891.57" y2="796.41" stroke="#5e5e5e" stroke-width="3"/>
<line x1="888.07" y1="834.58" x2="895.07" y2="834.58" stroke="#5e5e5e" stroke-width="3"/>
<line x1="888.07" y1="796.41" x2="895.07" y2="796.41" stroke="#5e5e5e" stroke-width="3"/>
<line x1="935.14" y1="843.25" x2="935.14" y2="824.17" stroke="#5e5e5e" stroke-width="3"/>
<line x1="931.64" y1="843.25" x2="938.64" y2="843.25" stroke="#5e5e5e" stroke-width="3"/>
<line x1="931.64" y1="824.17" x2="938.64" y2="824.17" stroke="#5e5e5e" stroke-width="3"/>
<line x1="978.71" y1="831.98" x2="978.71" y2="805.95" stroke="#5e5e5e" stroke-width="3"/>
<line x1="975.21" y1="831.98" x2="982.21" y2="831.98" stroke="#5e5e5e" stroke-width="3"/>
<line x1="975.21" y1="805.95" x2="982.21" y2="805.95" stroke="#5e5e5e" stroke-width="3"/>
<line x1="1022.28" y1="804.22" x2="1022.28" y2="762.58" stroke="#5e5e5e" stroke-width="3"/>
<line x1="1018.78" y1="804.22" x2="1025.78" y2="804.22" stroke="#5e5e5e" stroke-width="3"/>
<line x1="1018.78" y1="762.58" x2="1025.78" y2="762.58" stroke="#5e5e5e" stroke-width="3"/>
<line x1="1109.42" y1="750.43" x2="1109.42" y2="701.85" stroke="#5e5e5e" stroke-width="3"/>
<line x1="1105.92" y1="750.43" x2="1112.92" y2="750.43" stroke="#5e5e5e" stroke-width="3"/>
<line x1="1105.92" y1="701.85" x2="1112.92" y2="701.85" stroke="#5e5e5e" stroke-width="3"/>
<polyline points="848.00,833.71 891.57,821.57 935.14,844.12 978.71,850.19 1022.28,845.86 1109.42,838.92" fill="none" stroke="#000" stroke-width="3"/>
<polyline points="848.00,838.05 891.57,815.50 935.14,834.58 978.71,818.96 1022.28,784.26 1109.42,726.14" fill="none" stroke="#000" stroke-width="3"/>
<circle cx="848.00" cy="838.05" r="4.7" fill="#000"/>
<circle cx="891.57" cy="815.50" r="4.7" fill="#000"/>
<circle cx="935.14" cy="834.58" r="4.7" fill="#000"/>
<circle cx="978.71" cy="818.96" r="4.7" fill="#000"/>
<circle cx="1022.28" cy="784.26" r="4.7" fill="#000"/>
<circle cx="1109.42" cy="726.14" r="4.7" fill="#000"/>
<circle cx="848.00" cy="833.71" r="4.0" fill="#fff" stroke="#000" stroke-width="2"/>
<circle cx="891.57" cy="821.57" r="4.0" fill="#fff" stroke="#000" stroke-width="2"/>
<circle cx="935.14" cy="844.12" r="4.0" fill="#fff" stroke="#000" stroke-width="2"/>
<circle cx="978.71" cy="850.19" r="4.0" fill="#fff" stroke="#000" stroke-width="2"/>
<circle cx="1022.28" cy="845.86" r="4.0" fill="#fff" stroke="#000" stroke-width="2"/>
<circle cx="1109.42" cy="838.92" r="4.0" fill="#fff" stroke="#000" stroke-width="2"/>
<text x="1109.42" y="697.50" font-size="12" text-anchor="middle">*</text>
<circle cx="869.3" cy="694" r="5" fill="#000"/>
<text x="884.00" y="699.00" font-size="19.7" font-style="italic">Aldh1a3</text>
<circle cx="869.3" cy="717" r="4" fill="#fff" stroke="#000" stroke-width="2"/>
<text x="884.00" y="722.00" font-size="19.7" font-style="italic">Aldh1a2</text>
<text x="1003.90" y="906.70" font-size="19.7" text-anchor="middle">Days post wound (C57BL/6J)</text>
<text transform="translate(806.00,766.50) rotate(-90)" font-size="19.7" text-anchor="middle">Fold-difference</text>
<text x="177.00" y="921.70" font-size="19.75">WT and TLR3KO mice on PWD11</text>
<rect x="204.60" y="941.00" width="15.00" height="14.20" fill="#000"/>
<text x="229.00" y="954.60" font-size="19.7">C57BL/6NJ</text>
<rect x="355.30" y="941.30" width="13.00" height="13.00" fill="#888" stroke="#000" stroke-width="1.5"/>
<text x="380.20" y="954.60" font-size="19.7">TLR3KO</text>
<line x1="104.80" y1="988.50" x2="104.80" y2="1152.10" stroke="#000" stroke-width="2"/>
<line x1="99.80" y1="989.50" x2="104.80" y2="989.50" stroke="#000" stroke-width="2"/>
<line x1="99.80" y1="1068.30" x2="104.80" y2="1068.30" stroke="#000" stroke-width="2"/>
<line x1="99.80" y1="1147.10" x2="104.80" y2="1147.10" stroke="#000" stroke-width="2"/>
<line x1="99.80" y1="1147.10" x2="325.50" y2="1147.10" stroke="#000" stroke-width="2"/>
<line x1="104.80" y1="1147.10" x2="104.80" y2="1152.10" stroke="#000" stroke-width="2"/>
<line x1="214.00" y1="1147.10" x2="214.00" y2="1152.10" stroke="#000" stroke-width="2"/>
<line x1="324.50" y1="1147.10" x2="324.50" y2="1152.10" stroke="#000" stroke-width="2"/>
<text x="94.50" y="996.50" font-size="19.7" text-anchor="end">2</text>
<text x="94.50" y="1075.30" font-size="19.7" text-anchor="end">1</text>
<text x="94.50" y="1154.10" font-size="19.7" text-anchor="end">0</text>
<rect x="131.20" y="1061.21" width="25.50" height="85.89" fill="#000"/>
<line x1="143.95" y1="1081.70" x2="143.95" y2="1042.30" stroke="#666" stroke-width="2.2"/>
<line x1="141.45" y1="1081.70" x2="146.45" y2="1081.70" stroke="#666" stroke-width="2.2"/>
<line x1="141.45" y1="1042.30" x2="146.45" y2="1042.30" stroke="#666" stroke-width="2.2"/>
<rect x="163.45" y="1085.60" width="24.20" height="61.50" fill="#828282" stroke="#111" stroke-width="1.5"/>
<line x1="175.55" y1="1102.18" x2="175.55" y2="1068.30" stroke="#666" stroke-width="2.2"/>
<line x1="173.05" y1="1102.18" x2="178.05" y2="1102.18" stroke="#666" stroke-width="2.2"/>
<line x1="173.05" y1="1068.30" x2="178.05" y2="1068.30" stroke="#666" stroke-width="2.2"/>
<rect x="240.90" y="1075.39" width="26.00" height="71.71" fill="#000"/>
<line x1="253.90" y1="1095.88" x2="253.90" y2="1054.90" stroke="#666" stroke-width="2.2"/>
<line x1="251.40" y1="1095.88" x2="256.40" y2="1095.88" stroke="#666" stroke-width="2.2"/>
<line x1="251.40" y1="1054.90" x2="256.40" y2="1054.90" stroke="#666" stroke-width="2.2"/>
<rect x="273.35" y="1056.44" width="23.40" height="90.66" fill="#828282" stroke="#111" stroke-width="1.5"/>
<line x1="285.05" y1="1065.94" x2="285.05" y2="1045.45" stroke="#666" stroke-width="2.2"/>
<line x1="282.55" y1="1065.94" x2="287.55" y2="1065.94" stroke="#666" stroke-width="2.2"/>
<line x1="282.55" y1="1045.45" x2="287.55" y2="1045.45" stroke="#666" stroke-width="2.2"/>
<text x="205.40" y="983.50" font-size="19.7" text-anchor="middle" font-style="italic">Aldh1a2</text>
<text transform="translate(68.50,1063.70) rotate(-90)" font-size="19.7" text-anchor="middle">Fold-difference</text>
<text x="157.30" y="1173.70" font-size="19.7" text-anchor="middle">Control</text>
<text x="269.20" y="1173.70" font-size="19.7" text-anchor="middle">Poly (I:C)</text>
<line x1="146.00" y1="1031.70" x2="177.00" y2="1031.70" stroke="#000" stroke-width="2"/>
<text x="161.50" y="1023.30" font-size="19.7" text-anchor="middle">n.s.</text>
<line x1="252.00" y1="1031.70" x2="284.00" y2="1031.70" stroke="#000" stroke-width="2"/>
<text x="268.00" y="1023.30" font-size="19.7" text-anchor="middle">n.s.</text>
<line x1="420.40" y1="988.00" x2="420.40" y2="1152.90" stroke="#000" stroke-width="2"/>
<line x1="415.40" y1="989.00" x2="420.40" y2="989.00" stroke="#000" stroke-width="2"/>
<line x1="415.40" y1="1068.45" x2="420.40" y2="1068.45" stroke="#000" stroke-width="2"/>
<line x1="415.40" y1="1147.90" x2="420.40" y2="1147.90" stroke="#000" stroke-width="2"/>
<line x1="415.40" y1="1147.90" x2="634.30" y2="1147.90" stroke="#000" stroke-width="2"/>
<line x1="420.40" y1="1147.90" x2="420.40" y2="1152.90" stroke="#000" stroke-width="2"/>
<line x1="526.00" y1="1147.90" x2="526.00" y2="1152.90" stroke="#000" stroke-width="2"/>
<line x1="633.30" y1="1147.90" x2="633.30" y2="1152.90" stroke="#000" stroke-width="2"/>
<text x="409.30" y="996.00" font-size="19.7" text-anchor="end">5</text>
<text x="409.30" y="1075.45" font-size="19.7" text-anchor="end">2.5</text>
<text x="409.30" y="1154.90" font-size="19.7" text-anchor="end">0</text>
<rect x="445.80" y="1114.53" width="25.10" height="33.37" fill="#000"/>
<line x1="458.35" y1="1120.89" x2="458.35" y2="1109.13" stroke="#666" stroke-width="2.2"/>
<line x1="455.85" y1="1120.89" x2="460.85" y2="1120.89" stroke="#666" stroke-width="2.2"/>
<line x1="455.85" y1="1109.13" x2="460.85" y2="1109.13" stroke="#666" stroke-width="2.2"/>
<rect x="476.55" y="1128.63" width="23.30" height="19.27" fill="#828282" stroke="#111" stroke-width="1.5"/>
<line x1="488.20" y1="1132.01" x2="488.20" y2="1124.07" stroke="#666" stroke-width="2.2"/>
<line x1="485.70" y1="1132.01" x2="490.70" y2="1132.01" stroke="#666" stroke-width="2.2"/>
<line x1="485.70" y1="1124.07" x2="490.70" y2="1124.07" stroke="#666" stroke-width="2.2"/>
<rect x="552.50" y="1050.97" width="24.50" height="96.93" fill="#000"/>
<line x1="564.75" y1="1072.90" x2="564.75" y2="1030.31" stroke="#666" stroke-width="2.2"/>
<line x1="562.25" y1="1072.90" x2="567.25" y2="1072.90" stroke="#666" stroke-width="2.2"/>
<line x1="562.25" y1="1030.31" x2="567.25" y2="1030.31" stroke="#666" stroke-width="2.2"/>
<rect x="583.05" y="1123.23" width="22.70" height="24.67" fill="#828282" stroke="#111" stroke-width="1.5"/>
<line x1="594.40" y1="1125.65" x2="594.40" y2="1120.25" stroke="#666" stroke-width="2.2"/>
<line x1="591.90" y1="1125.65" x2="596.90" y2="1125.65" stroke="#666" stroke-width="2.2"/>
<line x1="591.90" y1="1120.25" x2="596.90" y2="1120.25" stroke="#666" stroke-width="2.2"/>
<text x="519.60" y="983.50" font-size="19.7" text-anchor="middle" font-style="italic">Aldh1a3</text>
<text transform="translate(368.00,1070.60) rotate(-90)" font-size="19.7" text-anchor="middle">Fold-difference</text>
<text x="471.50" y="1173.70" font-size="19.7" text-anchor="middle">Control</text>
<text x="580.00" y="1173.70" font-size="19.7" text-anchor="middle">Poly (I:C)</text>
<line x1="459.20" y1="1021.60" x2="561.90" y2="1021.60" stroke="#000" stroke-width="2"/>
<text x="510.00" y="1018.32" font-size="15.5" text-anchor="middle">*</text>
<line x1="566.80" y1="1021.60" x2="598.90" y2="1021.60" stroke="#000" stroke-width="2"/>
<text x="581.40" y="1018.32" font-size="15.5" text-anchor="middle">*</text>
<line x1="101.40" y1="1414.70" x2="101.40" y2="1566.50" stroke="#000" stroke-width="2"/>
<line x1="96.40" y1="1561.50" x2="101.40" y2="1561.50" stroke="#000" stroke-width="2"/>
<line x1="96.40" y1="1512.90" x2="101.40" y2="1512.90" stroke="#000" stroke-width="2"/>
<line x1="96.40" y1="1464.30" x2="101.40" y2="1464.30" stroke="#000" stroke-width="2"/>
<line x1="96.40" y1="1415.70" x2="101.40" y2="1415.70" stroke="#000" stroke-width="2"/>
<line x1="96.40" y1="1561.50" x2="314.10" y2="1561.50" stroke="#000" stroke-width="2"/>
<line x1="101.40" y1="1561.50" x2="101.40" y2="1566.50" stroke="#000" stroke-width="2"/>
<line x1="208.30" y1="1561.50" x2="208.30" y2="1566.50" stroke="#000" stroke-width="2"/>
<line x1="313.10" y1="1561.50" x2="313.10" y2="1566.50" stroke="#000" stroke-width="2"/>
<text x="90.00" y="1568.50" font-size="19.7" text-anchor="end">0</text>
<text x="90.00" y="1519.90" font-size="19.7" text-anchor="end">1</text>
<text x="90.00" y="1471.30" font-size="19.7" text-anchor="end">2</text>
<text x="90.00" y="1422.70" font-size="19.7" text-anchor="end">3</text>
<rect x="128.00" y="1512.90" width="24.50" height="48.60" fill="#000"/>
<line x1="140.25" y1="1513.39" x2="140.25" y2="1512.41" stroke="#666" stroke-width="2.2"/>
<line x1="137.75" y1="1513.39" x2="142.75" y2="1513.39" stroke="#666" stroke-width="2.2"/>
<line x1="137.75" y1="1512.41" x2="142.75" y2="1512.41" stroke="#666" stroke-width="2.2"/>
<rect x="158.85" y="1495.67" width="22.60" height="65.83" fill="#828282" stroke="#111" stroke-width="1.5"/>
<line x1="170.15" y1="1498.32" x2="170.15" y2="1491.52" stroke="#666" stroke-width="2.2"/>
<line x1="167.65" y1="1498.32" x2="172.65" y2="1498.32" stroke="#666" stroke-width="2.2"/>
<line x1="167.65" y1="1491.52" x2="172.65" y2="1491.52" stroke="#666" stroke-width="2.2"/>
<rect x="233.80" y="1501.72" width="24.10" height="59.78" fill="#000"/>
<line x1="245.85" y1="1504.15" x2="245.85" y2="1498.81" stroke="#666" stroke-width="2.2"/>
<line x1="243.35" y1="1504.15" x2="248.35" y2="1504.15" stroke="#666" stroke-width="2.2"/>
<line x1="243.35" y1="1498.81" x2="248.35" y2="1498.81" stroke="#666" stroke-width="2.2"/>
<rect x="264.85" y="1456.30" width="22.30" height="105.20" fill="#828282" stroke="#111" stroke-width="1.5"/>
<line x1="276.00" y1="1467.70" x2="276.00" y2="1443.40" stroke="#666" stroke-width="2.2"/>
<line x1="273.50" y1="1467.70" x2="278.50" y2="1467.70" stroke="#666" stroke-width="2.2"/>
<line x1="273.50" y1="1443.40" x2="278.50" y2="1443.40" stroke="#666" stroke-width="2.2"/>
<text x="196.00" y="1389.20" font-size="19.7" text-anchor="middle">C57BL/6NJ on PDW11</text>
<text transform="translate(39.50,1489.00) rotate(-90)" font-size="19.7" text-anchor="middle">Fold-difference of RA</text>
<text transform="translate(66.50,1489.00) rotate(-90)" font-size="19.7" text-anchor="middle">(center vs edge)</text>
<text x="153.00" y="1586.70" font-size="19.7" text-anchor="middle">Control</text>
<text x="260.70" y="1586.70" font-size="19.7" text-anchor="middle">Poly (I:C)</text>
<line x1="172.90" y1="1419.00" x2="280.00" y2="1419.00" stroke="#000" stroke-width="2"/>
<text x="222.40" y="1419.06" font-size="15.5" text-anchor="middle">*</text>
<line x1="245.10" y1="1435.40" x2="278.30" y2="1435.40" stroke="#000" stroke-width="2"/>
<text x="258.40" y="1435.06" font-size="15.5" text-anchor="middle">*</text>
<line x1="139.40" y1="1479.90" x2="172.90" y2="1479.90" stroke="#000" stroke-width="2"/>
<text x="155.90" y="1480.06" font-size="15.5" text-anchor="middle">*</text>
<line x1="422.70" y1="1413.20" x2="422.70" y2="1566.20" stroke="#000" stroke-width="2"/>
<line x1="417.70" y1="1561.20" x2="422.70" y2="1561.20" stroke="#000" stroke-width="2"/>
<line x1="417.70" y1="1512.20" x2="422.70" y2="1512.20" stroke="#000" stroke-width="2"/>
<line x1="417.70" y1="1463.20" x2="422.70" y2="1463.20" stroke="#000" stroke-width="2"/>
<line x1="417.70" y1="1414.20" x2="422.70" y2="1414.20" stroke="#000" stroke-width="2"/>
<line x1="417.70" y1="1561.20" x2="633.70" y2="1561.20" stroke="#000" stroke-width="2"/>
<line x1="422.70" y1="1561.20" x2="422.70" y2="1566.20" stroke="#000" stroke-width="2"/>
<line x1="527.50" y1="1561.20" x2="527.50" y2="1566.20" stroke="#000" stroke-width="2"/>
<line x1="632.70" y1="1561.20" x2="632.70" y2="1566.20" stroke="#000" stroke-width="2"/>
<text x="412.50" y="1568.20" font-size="19.7" text-anchor="end">0</text>
<text x="412.50" y="1519.20" font-size="19.7" text-anchor="end">1</text>
<text x="412.50" y="1470.20" font-size="19.7" text-anchor="end">2</text>
<text x="412.50" y="1421.20" font-size="19.7" text-anchor="end">3</text>
<rect x="447.50" y="1512.20" width="24.50" height="49.00" fill="#000"/>
<line x1="459.75" y1="1512.69" x2="459.75" y2="1511.71" stroke="#666" stroke-width="2.2"/>
<line x1="457.25" y1="1512.69" x2="462.25" y2="1512.69" stroke="#666" stroke-width="2.2"/>
<line x1="457.25" y1="1511.71" x2="462.25" y2="1511.71" stroke="#666" stroke-width="2.2"/>
<rect x="478.05" y="1499.23" width="23.20" height="61.97" fill="#828282" stroke="#111" stroke-width="1.5"/>
<line x1="489.65" y1="1502.40" x2="489.65" y2="1494.56" stroke="#666" stroke-width="2.2"/>
<line x1="487.15" y1="1502.40" x2="492.15" y2="1502.40" stroke="#666" stroke-width="2.2"/>
<line x1="487.15" y1="1494.56" x2="492.15" y2="1494.56" stroke="#666" stroke-width="2.2"/>
<rect x="553.10" y="1516.12" width="24.80" height="45.08" fill="#000"/>
<line x1="565.50" y1="1526.90" x2="565.50" y2="1504.85" stroke="#666" stroke-width="2.2"/>
<line x1="563.00" y1="1526.90" x2="568.00" y2="1526.90" stroke="#666" stroke-width="2.2"/>
<line x1="563.00" y1="1504.85" x2="568.00" y2="1504.85" stroke="#666" stroke-width="2.2"/>
<rect x="583.95" y="1504.62" width="22.40" height="56.58" fill="#828282" stroke="#111" stroke-width="1.5"/>
<line x1="595.15" y1="1504.85" x2="595.15" y2="1502.89" stroke="#666" stroke-width="2.2"/>
<line x1="592.65" y1="1504.85" x2="597.65" y2="1504.85" stroke="#666" stroke-width="2.2"/>
<line x1="592.65" y1="1502.89" x2="597.65" y2="1502.89" stroke="#666" stroke-width="2.2"/>
<text x="529.80" y="1389.20" font-size="19.7" text-anchor="middle">TLR3KO on PDW11</text>
<text transform="translate(362.00,1489.00) rotate(-90)" font-size="19.7" text-anchor="middle">Fold-difference of RA</text>
<text transform="translate(388.00,1489.00) rotate(-90)" font-size="19.7" text-anchor="middle">(center vs edge)</text>
<text x="478.70" y="1586.70" font-size="19.7" text-anchor="middle">Control</text>
<text x="587.50" y="1586.70" font-size="19.7" text-anchor="middle">Poly (I:C)</text>
<line x1="456.30" y1="1486.00" x2="489.80" y2="1486.00" stroke="#000" stroke-width="2"/>
<text x="473.00" y="1478.00" font-size="19.7" text-anchor="middle">n.s.</text>
<line x1="562.70" y1="1493.00" x2="596.00" y2="1493.00" stroke="#000" stroke-width="2"/>
<text x="579.40" y="1485.40" font-size="19.7" text-anchor="middle">n.s.</text>
<rect x="445.30" y="1266.20" width="13.90" height="13.50" fill="#000"/>
<text x="469.20" y="1279.20" font-size="19.7">Edge (E)</text>
<rect x="446.00" y="1302.20" width="12.50" height="12.00" fill="#a4a4a4" stroke="#000" stroke-width="1.5"/>
<text x="469.20" y="1313.80" font-size="19.7">Center (C)</text>
<text x="276.50" y="1249.20" font-size="13.9" text-anchor="middle">PWD11</text>
<text x="364.80" y="1249.20" font-size="13.9" text-anchor="middle">PWD14-21</text>
<text x="240.50" y="1330.80" font-size="13.9">E: (–) hairs</text>
<text x="240.50" y="1347.30" font-size="13.9">C: (–) hairs</text>
<text x="328.00" y="1330.80" font-size="13.9">E: (–) hairs</text>
<text x="328.00" y="1347.30" font-size="13.9">C: (+) hairs</text>
<defs><linearGradient id="mbg" x1="0" y1="0" x2="0" y2="1"><stop offset="0" stop-color="#fffefc"/><stop offset="0.5" stop-color="#fdf9f2"/><stop offset="1" stop-color="#f9f2e6"/></linearGradient><radialGradient id="mbody" cx="0.5" cy="0.45" r="0.6"><stop offset="0" stop-color="#3d2c24"/><stop offset="1" stop-color="#2a1c16"/></radialGradient></defs>
<rect x="117.5" y="1240" width="71.5" height="110" fill="url(#mbg)" filter="url(#b10)"/>
<g filter="url(#b8)"><path d="M129,1259 C128,1255 129,1252 131,1251 C135,1250 139,1251 142,1253 L140,1262 C136,1262 131,1261 129,1259 Z" fill="#8a6a55"/><path d="M156,1254 C160,1250 166,1251 169,1253 C171,1256 170,1259 168,1261 L158,1262 Z" fill="#9a7a65"/><path d="M149.5,1241 C153,1241 156,1244 158,1249 C162,1254 167,1259 169,1264 C170,1275 169.5,1285 170,1295 C171,1303 174,1310 175.5,1318 C178,1319 181,1319 183,1321 C184,1323 182,1325 179,1326 C176,1327 173,1329 170,1331 C166,1333 160,1334 156,1336 C154,1340 154,1345 153,1349 L150,1349 C149,1345 149,1340 147,1336 C143,1334 139,1334 135,1334 C130,1335 125,1336 121,1335 C119,1334 120,1332 123,1331 C127,1329 131,1328 133.5,1327 C132,1320 132,1312 133,1304 C134,1295 134.5,1285 134,1275 C133.5,1268 134,1262 137,1257 C140,1252 144,1243 149.5,1241 Z" fill="url(#mbody)"/><ellipse cx="152" cy="1316" rx="12" ry="8" fill="#4a382e" opacity="0.35"/><ellipse cx="125" cy="1333" rx="5" ry="2.5" fill="#8a5a48"/><ellipse cx="178" cy="1322" rx="5" ry="2.5" fill="#8a5a48"/></g>
<rect x="143.4" y="1284.2" width="19.4" height="22.8" fill="#94402f" stroke="#fff" stroke-width="2"/>
<rect x="146.5" y="1287" width="12" height="17" fill="#b85848" filter="url(#b15)"/>
<path d="M181.3,1287.3 L212,1287.3 L212,1282.8 L244,1291.3 L212,1299.9 L212,1295.3 L181.3,1295.3 Z" fill="#000"/>
<path d="M315.5,1285 L320.5,1285 L320.5,1278 L329.3,1294.6 L320.5,1311.3 L320.5,1304 L315.5,1304 Z" fill="#000"/>
<defs><radialGradient id="w1" cx="0.48" cy="0.5" r="0.75"><stop offset="0" stop-color="#b2bec9"/><stop offset="0.55" stop-color="#8d9aa7"/><stop offset="1" stop-color="#4e5964"/></radialGradient><linearGradient id="w2" x1="0" y1="0" x2="0" y2="1"><stop offset="0" stop-color="#2e3440"/><stop offset="0.12" stop-color="#5f6c86"/><stop offset="0.3" stop-color="#8393b0"/><stop offset="1" stop-color="#8797b5"/></linearGradient><filter id="nz" x="0" y="0" width="100%" height="100%"><feTurbulence type="fractalNoise" baseFrequency="0.35 0.9" numOctaves="2" seed="3"/><feColorMatrix type="matrix" values="0 0 0 0 1  0 0 0 0 1  0 0 0 0 1  0 0 0 1.6 -0.75"/></filter><filter id="nz2" x="0" y="0" width="100%" height="100%"><feTurbulence type="fractalNoise" baseFrequency="0.6 0.15" numOctaves="2" seed="7"/><feColorMatrix type="matrix" values="0 0 0 0 0.1  0 0 0 0 0.12  0 0 0 0 0.2  0 0 0 1.8 -0.95"/></filter></defs>
<rect x="246.4" y="1255.6" width="62.5" height="61.1" fill="url(#w1)"/>
<rect x="246.4" y="1255.6" width="62.5" height="61.1" filter="url(#nz)" opacity="0.45"/>
<rect x="334.9" y="1255.6" width="61.8" height="61.1" fill="url(#w2)"/>
<rect x="334.9" y="1255.6" width="61.8" height="61.1" filter="url(#nz2)" opacity="0.7"/>
<text x="266.80" y="1272.40" font-size="13">E</text>
<text x="280.00" y="1290.70" font-size="13">C</text>
<text x="342.80" y="1270.00" font-size="13">E</text>
<text x="362.00" y="1286.00" font-size="13">C</text>
<ellipse cx="362.3" cy="1291.7" rx="18.6" ry="19.8" fill="none" stroke="#e22a2a" stroke-width="2.7" stroke-dasharray="5,3.6"/>
<rect x="834.20" y="1053.00" width="240.20" height="39.10" fill="#f0f0f0"/>
<rect x="834.20" y="1097.20" width="240.20" height="40.40" fill="#eaeaea"/>
<rect x="834.20" y="1142.50" width="240.20" height="39.60" fill="#ebebeb"/>
<rect x="834.20" y="1187.00" width="240.20" height="39.60" fill="#e9e9e9"/>
<rect x="879.50" y="1074.60" width="33.00" height="2.80" rx="1.40" fill="#000" fill-opacity="0.3" filter="url(#b10)"/>
<rect x="959.30" y="1069.60" width="33.00" height="2.80" rx="1.40" fill="#000" fill-opacity="0.28" filter="url(#b10)"/>
<rect x="1039.00" y="1067.60" width="33.00" height="2.80" rx="1.40" fill="#000" fill-opacity="0.32" filter="url(#b10)"/>
<rect x="838.50" y="1099.00" width="34.00" height="37.00" fill="#000" fill-opacity="0.06" filter="url(#b20)"/>
<rect x="879.00" y="1099.00" width="34.00" height="37.00" fill="#000" fill-opacity="0.06" filter="url(#b20)"/>
<rect x="919.80" y="1099.00" width="34.00" height="37.00" fill="#000" fill-opacity="0.06" filter="url(#b20)"/>
<rect x="958.80" y="1099.00" width="34.00" height="37.00" fill="#000" fill-opacity="0.06" filter="url(#b20)"/>
<rect x="999.40" y="1099.00" width="34.00" height="37.00" fill="#000" fill-opacity="0.06" filter="url(#b20)"/>
<rect x="1038.50" y="1099.00" width="34.00" height="37.00" fill="#000" fill-opacity="0.06" filter="url(#b20)"/>
<rect x="838.50" y="1120.50" width="34.00" height="7.00" rx="3.50" fill="#000" fill-opacity="0.22" filter="url(#b20)"/>
<rect x="879.00" y="1121.50" width="34.00" height="7.00" rx="3.50" fill="#000" fill-opacity="0.5" filter="url(#b20)"/>
<rect x="919.80" y="1119.50" width="34.00" height="7.00" rx="3.50" fill="#000" fill-opacity="0.2" filter="url(#b20)"/>
<rect x="958.80" y="1117.00" width="34.00" height="7.00" rx="3.50" fill="#000" fill-opacity="0.45" filter="url(#b20)"/>
<rect x="999.40" y="1119.50" width="34.00" height="7.00" rx="3.50" fill="#000" fill-opacity="0.15" filter="url(#b20)"/>
<rect x="1038.50" y="1119.50" width="34.00" height="7.00" rx="3.50" fill="#000" fill-opacity="0.25" filter="url(#b20)"/>
<rect x="838.00" y="1164.00" width="35.00" height="5.00" rx="2.50" fill="#000" fill-opacity="0.25" filter="url(#b10)"/>
<rect x="878.50" y="1161.30" width="35.00" height="7.00" rx="3.50" fill="#000" fill-opacity="0.65" filter="url(#b10)"/>
<rect x="919.30" y="1157.50" width="35.00" height="11.00" rx="5.50" fill="#000" fill-opacity="1.0" filter="url(#b10)"/>
<rect x="958.30" y="1153.75" width="35.00" height="15.50" rx="7.75" fill="#000" fill-opacity="1.0" filter="url(#b10)"/>
<rect x="998.90" y="1160.20" width="35.00" height="5.00" rx="2.50" fill="#000" fill-opacity="0.22" filter="url(#b10)"/>
<rect x="1038.00" y="1157.70" width="35.00" height="8.00" rx="4.00" fill="#000" fill-opacity="1.0" filter="url(#b10)"/>
<rect x="837.50" y="1197.60" width="36.00" height="8.00" rx="4.00" fill="#000" fill-opacity="0.12" filter="url(#b20)"/>
<rect x="835.00" y="1205.35" width="41.00" height="10.50" rx="5.25" fill="#000" fill-opacity="1.0" filter="url(#b10)"/>
<rect x="878.00" y="1194.40" width="36.00" height="8.00" rx="4.00" fill="#000" fill-opacity="0.12" filter="url(#b20)"/>
<rect x="875.50" y="1202.15" width="41.00" height="10.50" rx="5.25" fill="#000" fill-opacity="1.0" filter="url(#b10)"/>
<rect x="918.80" y="1192.80" width="36.00" height="8.00" rx="4.00" fill="#000" fill-opacity="0.12" filter="url(#b20)"/>
<rect x="916.30" y="1200.55" width="41.00" height="10.50" rx="5.25" fill="#000" fill-opacity="1.0" filter="url(#b10)"/>
<rect x="957.80" y="1192.00" width="36.00" height="8.00" rx="4.00" fill="#000" fill-opacity="0.12" filter="url(#b20)"/>
<rect x="955.30" y="1199.75" width="41.00" height="10.50" rx="5.25" fill="#000" fill-opacity="1.0" filter="url(#b10)"/>
<rect x="998.40" y="1192.60" width="36.00" height="8.00" rx="4.00" fill="#000" fill-opacity="0.12" filter="url(#b20)"/>
<rect x="995.90" y="1200.35" width="41.00" height="10.50" rx="5.25" fill="#000" fill-opacity="1.0" filter="url(#b10)"/>
<rect x="1037.50" y="1193.80" width="36.00" height="8.00" rx="4.00" fill="#000" fill-opacity="0.12" filter="url(#b20)"/>
<rect x="1035.00" y="1201.55" width="41.00" height="10.50" rx="5.25" fill="#000" fill-opacity="1.0" filter="url(#b10)"/>
<rect x="834.20" y="1053.00" width="240.20" height="39.10" fill="none" stroke="#000" stroke-width="2"/>
<rect x="834.20" y="1097.20" width="240.20" height="40.40" fill="none" stroke="#000" stroke-width="2"/>
<rect x="834.20" y="1142.50" width="240.20" height="39.60" fill="none" stroke="#000" stroke-width="2"/>
<rect x="834.20" y="1187.00" width="240.20" height="39.60" fill="none" stroke="#000" stroke-width="2"/>
<text x="824.50" y="1077.90" font-size="19.7" text-anchor="end">Aldh1a3</text>
<text x="824.50" y="1124.60" font-size="19.7" text-anchor="end">Krt15</text>
<text x="824.50" y="1169.20" font-size="19.7" text-anchor="end">Krt19</text>
<text x="824.50" y="1212.00" font-size="19.7" text-anchor="end">β-Actin</text>
<line x1="1075.00" y1="1059.40" x2="1091.50" y2="1059.40" stroke="#000" stroke-width="1.5"/>
<text x="1099.30" y="1066.20" font-size="19.7">60 kDa</text>
<line x1="1075.00" y1="1133.90" x2="1091.50" y2="1133.90" stroke="#000" stroke-width="1.5"/>
<text x="1099.60" y="1139.90" font-size="19.7">50 kDa</text>
<line x1="1075.00" y1="1176.80" x2="1091.00" y2="1176.80" stroke="#000" stroke-width="1.5"/>
<text x="1098.00" y="1182.10" font-size="19.7">40 kDa</text>
<line x1="1075.00" y1="1221.50" x2="1091.00" y2="1221.50" stroke="#000" stroke-width="1.5"/>
<text x="1098.00" y="1226.90" font-size="19.7">40 kDa</text>
<text x="952.60" y="957.40" font-size="19.7" text-anchor="middle">PWD11</text>
<text x="952.60" y="980.80" font-size="19.7" text-anchor="middle">C57BL/6J-wounded skin</text>
<line x1="838.70" y1="988.00" x2="1072.50" y2="988.00" stroke="#000" stroke-width="2"/>
<text x="871.90" y="1012.60" font-size="19.7" text-anchor="middle">#1</text>
<line x1="842.00" y1="1019.40" x2="902.50" y2="1019.40" stroke="#000" stroke-width="2"/>
<text x="960.70" y="1012.60" font-size="19.7" text-anchor="middle">#2</text>
<line x1="924.60" y1="1019.40" x2="985.00" y2="1019.40" stroke="#000" stroke-width="2"/>
<text x="1042.70" y="1012.60" font-size="19.7" text-anchor="middle">#3</text>
<line x1="1004.50" y1="1019.40" x2="1064.80" y2="1019.40" stroke="#000" stroke-width="2"/>
<text x="859.00" y="1044.50" font-size="19.7" text-anchor="middle">E</text>
<text x="894.80" y="1044.50" font-size="19.7" text-anchor="middle">C</text>
<text x="937.30" y="1044.50" font-size="19.7" text-anchor="middle">E</text>
<text x="972.20" y="1044.50" font-size="19.7" text-anchor="middle">C</text>
<text x="1018.50" y="1044.50" font-size="19.7" text-anchor="middle">E</text>
<text x="1054.20" y="1044.50" font-size="19.7" text-anchor="middle">C</text>
<text x="735.40" y="1287.50" font-size="19.8">Proteome; C57BL/6J-wounded skin (PDW11)</text>
<text x="879.20" y="1315.40" font-size="19.7" text-anchor="middle">Edge</text>
<text x="993.75" y="1315.40" font-size="19.7" text-anchor="middle" fill="#25255e">Center</text>
<line x1="817.50" y1="1322.00" x2="1043.75" y2="1322.00" stroke="#000" stroke-width="2"/>
<rect x="817.00" y="1330.60" width="38.85" height="13.47" fill="#8585bf" shape-rendering="crispEdges"/>
<rect x="855.25" y="1330.60" width="38.85" height="13.47" fill="#8585bf" shape-rendering="crispEdges"/>
<rect x="893.50" y="1330.60" width="38.85" height="13.47" fill="#8585bf" shape-rendering="crispEdges"/>
<rect x="931.75" y="1330.60" width="38.45" height="13.47" fill="#e8b0b0" shape-rendering="crispEdges"/>
<rect x="969.60" y="1330.60" width="38.40" height="13.47" fill="#ecc4c4" shape-rendering="crispEdges"/>
<rect x="1007.40" y="1330.60" width="38.60" height="13.47" fill="#c84040" shape-rendering="crispEdges"/>
<text x="1050.00" y="1343.03" font-size="11.6">Lcn2*</text>
<rect x="817.00" y="1343.46" width="38.85" height="13.47" fill="#8e8ec2" shape-rendering="crispEdges"/>
<rect x="855.25" y="1343.46" width="38.85" height="13.47" fill="#8e8ec2" shape-rendering="crispEdges"/>
<rect x="893.50" y="1343.46" width="38.85" height="13.47" fill="#8e8ec2" shape-rendering="crispEdges"/>
<rect x="931.75" y="1343.46" width="38.45" height="13.47" fill="#eecccc" shape-rendering="crispEdges"/>
<rect x="969.60" y="1343.46" width="38.40" height="13.47" fill="#f0d8d8" shape-rendering="crispEdges"/>
<rect x="1007.40" y="1343.46" width="38.60" height="13.47" fill="#c02a2a" shape-rendering="crispEdges"/>
<text x="1050.00" y="1355.90" font-size="11.6">Mmp9</text>
<rect x="817.00" y="1356.33" width="38.85" height="13.47" fill="#7e7eb8" shape-rendering="crispEdges"/>
<rect x="855.25" y="1356.33" width="38.85" height="13.47" fill="#7e7eb8" shape-rendering="crispEdges"/>
<rect x="893.50" y="1356.33" width="38.85" height="13.47" fill="#7e7eb8" shape-rendering="crispEdges"/>
<rect x="931.75" y="1356.33" width="38.45" height="13.47" fill="#cc5a5a" shape-rendering="crispEdges"/>
<rect x="969.60" y="1356.33" width="38.40" height="13.47" fill="#d88080" shape-rendering="crispEdges"/>
<rect x="1007.40" y="1356.33" width="38.60" height="13.47" fill="#e4a8a8" shape-rendering="crispEdges"/>
<text x="1050.00" y="1368.76" font-size="11.6">Sra1</text>
<rect x="817.00" y="1369.19" width="38.85" height="13.47" fill="#9090c4" shape-rendering="crispEdges"/>
<rect x="855.25" y="1369.19" width="38.85" height="13.47" fill="#9090c4" shape-rendering="crispEdges"/>
<rect x="893.50" y="1369.19" width="38.85" height="13.47" fill="#9090c4" shape-rendering="crispEdges"/>
<rect x="931.75" y="1369.19" width="38.45" height="13.47" fill="#dc9494" shape-rendering="crispEdges"/>
<rect x="969.60" y="1369.19" width="38.40" height="13.47" fill="#e8eaf4" shape-rendering="crispEdges"/>
<rect x="1007.40" y="1369.19" width="38.60" height="13.47" fill="#c02a2a" shape-rendering="crispEdges"/>
<text x="1050.00" y="1381.63" font-size="11.6">Camp</text>
<rect x="817.00" y="1382.06" width="38.85" height="13.47" fill="#8e8ec4" shape-rendering="crispEdges"/>
<rect x="855.25" y="1382.06" width="38.85" height="13.47" fill="#8a8ac0" shape-rendering="crispEdges"/>
<rect x="893.50" y="1382.06" width="38.85" height="13.47" fill="#8e8ec4" shape-rendering="crispEdges"/>
<rect x="931.75" y="1382.06" width="38.45" height="13.47" fill="#e8b4b4" shape-rendering="crispEdges"/>
<rect x="969.60" y="1382.06" width="38.40" height="13.47" fill="#f4e4e4" shape-rendering="crispEdges"/>
<rect x="1007.40" y="1382.06" width="38.60" height="13.47" fill="#c02a2a" shape-rendering="crispEdges"/>
<text x="1050.00" y="1394.49" font-size="11.6">S100a9</text>
<rect x="817.00" y="1394.92" width="38.85" height="13.47" fill="#7c7cba" shape-rendering="crispEdges"/>
<rect x="855.25" y="1394.92" width="38.85" height="13.47" fill="#8484be" shape-rendering="crispEdges"/>
<rect x="893.50" y="1394.92" width="38.85" height="13.47" fill="#8484be" shape-rendering="crispEdges"/>
<rect x="931.75" y="1394.92" width="38.45" height="13.47" fill="#e8b4b4" shape-rendering="crispEdges"/>
<rect x="969.60" y="1394.92" width="38.40" height="13.47" fill="#e4a8a8" shape-rendering="crispEdges"/>
<rect x="1007.40" y="1394.92" width="38.60" height="13.47" fill="#c84040" shape-rendering="crispEdges"/>
<text x="1050.00" y="1407.36" font-size="11.6">Aldh1a3*</text>
<rect x="817.00" y="1407.79" width="38.85" height="13.47" fill="#8686c0" shape-rendering="crispEdges"/>
<rect x="855.25" y="1407.79" width="38.85" height="13.47" fill="#8080ba" shape-rendering="crispEdges"/>
<rect x="893.50" y="1407.79" width="38.85" height="13.47" fill="#9494c6" shape-rendering="crispEdges"/>
<rect x="931.75" y="1407.79" width="38.45" height="13.47" fill="#d87c7c" shape-rendering="crispEdges"/>
<rect x="969.60" y="1407.79" width="38.40" height="13.47" fill="#ffffff" shape-rendering="crispEdges"/>
<rect x="1007.40" y="1407.79" width="38.60" height="13.47" fill="#c84040" shape-rendering="crispEdges"/>
<text x="1050.00" y="1420.22" font-size="11.6">S100a8</text>
<rect x="817.00" y="1420.65" width="38.85" height="13.47" fill="#a8a8d0" shape-rendering="crispEdges"/>
<rect x="855.25" y="1420.65" width="38.85" height="13.47" fill="#7c7cb8" shape-rendering="crispEdges"/>
<rect x="893.50" y="1420.65" width="38.85" height="13.47" fill="#6c6cb0" shape-rendering="crispEdges"/>
<rect x="931.75" y="1420.65" width="38.45" height="13.47" fill="#c84444" shape-rendering="crispEdges"/>
<rect x="969.60" y="1420.65" width="38.40" height="13.47" fill="#e09c9c" shape-rendering="crispEdges"/>
<rect x="1007.40" y="1420.65" width="38.60" height="13.47" fill="#ecc4c4" shape-rendering="crispEdges"/>
<text x="1050.00" y="1433.09" font-size="11.6">Crabp2*</text>
<rect x="817.00" y="1433.52" width="38.85" height="13.47" fill="#6c6cb0" shape-rendering="crispEdges"/>
<rect x="855.25" y="1433.52" width="38.85" height="13.47" fill="#6c6cb0" shape-rendering="crispEdges"/>
<rect x="893.50" y="1433.52" width="38.85" height="13.47" fill="#b0b0d6" shape-rendering="crispEdges"/>
<rect x="931.75" y="1433.52" width="38.45" height="13.47" fill="#e09c9c" shape-rendering="crispEdges"/>
<rect x="969.60" y="1433.52" width="38.40" height="13.47" fill="#e8b4b4" shape-rendering="crispEdges"/>
<rect x="1007.40" y="1433.52" width="38.60" height="13.47" fill="#cc5050" shape-rendering="crispEdges"/>
<text x="1050.00" y="1445.95" font-size="11.6">Rbp2*</text>
<rect x="817.00" y="1446.38" width="38.85" height="13.47" fill="#a0a0cc" shape-rendering="crispEdges"/>
<rect x="855.25" y="1446.38" width="38.85" height="13.47" fill="#7878b6" shape-rendering="crispEdges"/>
<rect x="893.50" y="1446.38" width="38.85" height="13.47" fill="#6868ac" shape-rendering="crispEdges"/>
<rect x="931.75" y="1446.38" width="38.45" height="13.47" fill="#d06060" shape-rendering="crispEdges"/>
<rect x="969.60" y="1446.38" width="38.40" height="13.47" fill="#e4a4a4" shape-rendering="crispEdges"/>
<rect x="1007.40" y="1446.38" width="38.60" height="13.47" fill="#dc8c8c" shape-rendering="crispEdges"/>
<text x="1050.00" y="1458.82" font-size="11.6">Crabp1*</text>
<rect x="817.00" y="1459.25" width="38.85" height="13.47" fill="#ccccE4" shape-rendering="crispEdges"/>
<rect x="855.25" y="1459.25" width="38.85" height="13.47" fill="#cc5c5c" shape-rendering="crispEdges"/>
<rect x="893.50" y="1459.25" width="38.85" height="13.47" fill="#c85050" shape-rendering="crispEdges"/>
<rect x="931.75" y="1459.25" width="38.45" height="13.47" fill="#b4b4d8" shape-rendering="crispEdges"/>
<rect x="969.60" y="1459.25" width="38.40" height="13.47" fill="#7c7cb8" shape-rendering="crispEdges"/>
<rect x="1007.40" y="1459.25" width="38.60" height="13.47" fill="#9090c4" shape-rendering="crispEdges"/>
<text x="1050.00" y="1471.68" font-size="11.6">Aldh3a1</text>
<rect x="817.00" y="1472.12" width="38.85" height="13.47" fill="#c03434" shape-rendering="crispEdges"/>
<rect x="855.25" y="1472.12" width="38.85" height="13.47" fill="#faeeee" shape-rendering="crispEdges"/>
<rect x="893.50" y="1472.12" width="38.85" height="13.47" fill="#e09c9c" shape-rendering="crispEdges"/>
<rect x="931.75" y="1472.12" width="38.45" height="13.47" fill="#9090c4" shape-rendering="crispEdges"/>
<rect x="969.60" y="1472.12" width="38.40" height="13.47" fill="#8888c0" shape-rendering="crispEdges"/>
<rect x="1007.40" y="1472.12" width="38.60" height="13.47" fill="#9090c4" shape-rendering="crispEdges"/>
<text x="1050.00" y="1484.55" font-size="11.6">Myh1</text>
<rect x="817.00" y="1484.98" width="38.85" height="13.47" fill="#d87070" shape-rendering="crispEdges"/>
<rect x="855.25" y="1484.98" width="38.85" height="13.47" fill="#d47878" shape-rendering="crispEdges"/>
<rect x="893.50" y="1484.98" width="38.85" height="13.47" fill="#e09c9c" shape-rendering="crispEdges"/>
<rect x="931.75" y="1484.98" width="38.45" height="13.47" fill="#6868ac" shape-rendering="crispEdges"/>
<rect x="969.60" y="1484.98" width="38.40" height="13.47" fill="#9898c8" shape-rendering="crispEdges"/>
<rect x="1007.40" y="1484.98" width="38.60" height="13.47" fill="#7878b6" shape-rendering="crispEdges"/>
<text x="1050.00" y="1497.41" font-size="11.6">Col14a1</text>
<rect x="817.00" y="1497.85" width="38.85" height="13.47" fill="#e8b4b4" shape-rendering="crispEdges"/>
<rect x="855.25" y="1497.85" width="38.85" height="13.47" fill="#c44444" shape-rendering="crispEdges"/>
<rect x="893.50" y="1497.85" width="38.85" height="13.47" fill="#e4a8a8" shape-rendering="crispEdges"/>
<rect x="931.75" y="1497.85" width="38.45" height="13.47" fill="#7c7cb8" shape-rendering="crispEdges"/>
<rect x="969.60" y="1497.85" width="38.40" height="13.47" fill="#9090c4" shape-rendering="crispEdges"/>
<rect x="1007.40" y="1497.85" width="38.60" height="13.47" fill="#7c7cb8" shape-rendering="crispEdges"/>
<text x="1050.00" y="1510.28" font-size="11.6">Flg2</text>
<rect x="817.00" y="1510.71" width="38.85" height="13.47" fill="#e4a4a4" shape-rendering="crispEdges"/>
<rect x="855.25" y="1510.71" width="38.85" height="13.47" fill="#dc8888" shape-rendering="crispEdges"/>
<rect x="893.50" y="1510.71" width="38.85" height="13.47" fill="#d87c7c" shape-rendering="crispEdges"/>
<rect x="931.75" y="1510.71" width="38.45" height="13.47" fill="#6464aa" shape-rendering="crispEdges"/>
<rect x="969.60" y="1510.71" width="38.40" height="13.47" fill="#ececf4" shape-rendering="crispEdges"/>
<rect x="1007.40" y="1510.71" width="38.60" height="13.47" fill="#5a5aa6" shape-rendering="crispEdges"/>
<text x="1050.00" y="1523.14" font-size="11.6">Flg</text>
<rect x="817.00" y="1523.58" width="38.85" height="13.47" fill="#d06060" shape-rendering="crispEdges"/>
<rect x="855.25" y="1523.58" width="38.85" height="13.47" fill="#e4a8a8" shape-rendering="crispEdges"/>
<rect x="893.50" y="1523.58" width="38.85" height="13.47" fill="#d88080" shape-rendering="crispEdges"/>
<rect x="931.75" y="1523.58" width="38.45" height="13.47" fill="#7e7eb8" shape-rendering="crispEdges"/>
<rect x="969.60" y="1523.58" width="38.40" height="13.47" fill="#7e7eb8" shape-rendering="crispEdges"/>
<rect x="1007.40" y="1523.58" width="38.60" height="13.47" fill="#7e7eb8" shape-rendering="crispEdges"/>
<text x="1050.00" y="1536.01" font-size="11.6">Col6a5</text>
<rect x="817.00" y="1536.44" width="38.85" height="13.47" fill="#d87070" shape-rendering="crispEdges"/>
<rect x="855.25" y="1536.44" width="38.85" height="13.47" fill="#e09090" shape-rendering="crispEdges"/>
<rect x="893.50" y="1536.44" width="38.85" height="13.47" fill="#d87c7c" shape-rendering="crispEdges"/>
<rect x="931.75" y="1536.44" width="38.45" height="13.47" fill="#7e7eb8" shape-rendering="crispEdges"/>
<rect x="969.60" y="1536.44" width="38.40" height="13.47" fill="#7e7eb8" shape-rendering="crispEdges"/>
<rect x="1007.40" y="1536.44" width="38.60" height="13.47" fill="#7e7eb8" shape-rendering="crispEdges"/>
<text x="1050.00" y="1548.87" font-size="11.6">Myl4</text>
<rect x="817.00" y="1549.31" width="38.85" height="13.47" fill="#d87070" shape-rendering="crispEdges"/>
<rect x="855.25" y="1549.31" width="38.85" height="13.47" fill="#e09090" shape-rendering="crispEdges"/>
<rect x="893.50" y="1549.31" width="38.85" height="13.47" fill="#d87c7c" shape-rendering="crispEdges"/>
<rect x="931.75" y="1549.31" width="38.45" height="13.47" fill="#7e7eb8" shape-rendering="crispEdges"/>
<rect x="969.60" y="1549.31" width="38.40" height="13.47" fill="#7e7eb8" shape-rendering="crispEdges"/>
<rect x="1007.40" y="1549.31" width="38.60" height="13.47" fill="#7e7eb8" shape-rendering="crispEdges"/>
<text x="1050.00" y="1561.74" font-size="11.6">Myl3</text>
<rect x="817.00" y="1562.17" width="38.85" height="13.47" fill="#f0d0d0" shape-rendering="crispEdges"/>
<rect x="855.25" y="1562.17" width="38.85" height="13.47" fill="#d06868" shape-rendering="crispEdges"/>
<rect x="893.50" y="1562.17" width="38.85" height="13.47" fill="#d06868" shape-rendering="crispEdges"/>
<rect x="931.75" y="1562.17" width="38.45" height="13.47" fill="#8080b8" shape-rendering="crispEdges"/>
<rect x="969.60" y="1562.17" width="38.40" height="13.47" fill="#8080b8" shape-rendering="crispEdges"/>
<rect x="1007.40" y="1562.17" width="38.60" height="13.47" fill="#8080b8" shape-rendering="crispEdges"/>
<text x="1050.00" y="1574.60" font-size="11.6">Alox12e</text>
<rect x="817.00" y="1575.04" width="38.85" height="13.47" fill="#d06060" shape-rendering="crispEdges"/>
<rect x="855.25" y="1575.04" width="38.85" height="13.47" fill="#e4a8a8" shape-rendering="crispEdges"/>
<rect x="893.50" y="1575.04" width="38.85" height="13.47" fill="#dc9090" shape-rendering="crispEdges"/>
<rect x="931.75" y="1575.04" width="38.45" height="13.47" fill="#8080b8" shape-rendering="crispEdges"/>
<rect x="969.60" y="1575.04" width="38.40" height="13.47" fill="#8080b8" shape-rendering="crispEdges"/>
<rect x="1007.40" y="1575.04" width="38.60" height="13.47" fill="#8080b8" shape-rendering="crispEdges"/>
<text x="1050.00" y="1587.47" font-size="11.6">Ptgfm</text>
<defs><linearGradient id="cb" x1="0" y1="0" x2="0" y2="1"><stop offset="0" stop-color="#c0282a"/><stop offset="0.5" stop-color="#ffffff"/><stop offset="1" stop-color="#3a4ea0"/></linearGradient></defs>
<rect x="799.50" y="1330.60" width="8.50" height="257.30" fill="url(#cb)"/>
<text x="791.00" y="1338.00" font-size="19.7" text-anchor="end">2.0</text>
<text x="791.00" y="1465.00" font-size="19.7" text-anchor="end">0.0</text>
<text x="786.00" y="1593.00" font-size="19.7" text-anchor="end">−2.0</text></svg></body></html>
